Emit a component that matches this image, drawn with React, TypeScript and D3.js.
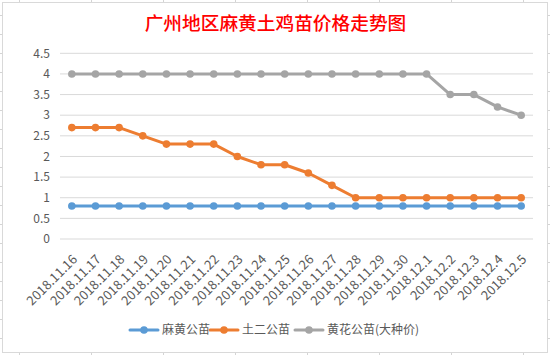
import React from "react";
import * as d3 from "d3";

const categories = [
  "2018.11.16", "2018.11.17", "2018.11.18", "2018.11.19", "2018.11.20",
  "2018.11.21", "2018.11.22", "2018.11.23", "2018.11.24", "2018.11.25",
  "2018.11.26", "2018.11.27", "2018.11.28", "2018.11.29", "2018.11.30",
  "2018.12.1", "2018.12.2", "2018.12.3", "2018.12.4", "2018.12.5",
];
const mahuang = [0.8, 0.8, 0.8, 0.8, 0.8, 0.8, 0.8, 0.8, 0.8, 0.8, 0.8, 0.8, 0.8, 0.8, 0.8, 0.8, 0.8, 0.8, 0.8, 0.8];
const tuer = [2.7, 2.7, 2.7, 2.5, 2.3, 2.3, 2.3, 2.0, 1.8, 1.8, 1.6, 1.3, 1.0, 1.0, 1.0, 1.0, 1.0, 1.0, 1.0, 1.0];
const huanghua = [4, 4, 4, 4, 4, 4, 4, 4, 4, 4, 4, 4, 4, 4, 4, 4, 3.5, 3.5, 3.2, 3.0];
const yTicks = [0, 0.5, 1, 1.5, 2, 2.5, 3, 3.5, 4, 4.5];
const seriesNames = ["麻黄公苗", "土二公苗", "黄花公苗(大种价)"];
const title = "广州地区麻黄土鸡苗价格走势图";

const W = 550;
const H = 355;
const colors = ["#5B9BD5", "#ED7D31", "#A5A5A5"];
const font = "'Microsoft YaHei', 'Noto Sans CJK SC', 'Noto Sans', sans-serif";

export default function App() {
  const x = d3.scaleBand<string>().domain(categories).range([60, 533]);
  const y = d3.scaleLinear().domain([0, 4.5]).range([239, 53.3]);
  const line = d3
    .line<number>()
    .x((_, i) => (x(categories[i]) as number) + x.bandwidth() / 2)
    .y((d) => y(d));
  const series = [mahuang, tuer, huanghua];

  const rowTicks = d3.range(15, H, 19);
  const colTicks = d3.range(19.5, W, 72);

  const legendItems = [
    { x: 130, textX: 162 },
    { x: 210, textX: 242 },
    { x: 295, textX: 327 },
  ];

  return (
    <svg
      width={W}
      height={H}
      style={{ position: "absolute", left: 0, top: 0, background: "#fff" }}
    >
      {rowTicks.map((r) => (
        <g key={"r" + r}>
          <line x1={0} x2={3} y1={r + 0.5} y2={r + 0.5} stroke="#d4d4d4" />
          <line x1={547} x2={W} y1={r + 0.5} y2={r + 0.5} stroke="#d4d4d4" />
        </g>
      ))}
      {colTicks.map((c) => (
        <g key={"c" + c}>
          <line x1={c} x2={c} y1={0} y2={3} stroke="#d4d4d4" />
          <line x1={c} x2={c} y1={352} y2={H} stroke="#d4d4d4" />
        </g>
      ))}
      <rect x={2.5} y={2.5} width={545} height={350} fill="#fff" stroke="#d9d9d9" />

      <text
        x={275.5}
        y={30}
        textAnchor="middle"
        fill="#FF0000"
        fontSize={18.7}
        fontWeight={500}
        fontFamily={font}
      >
        {title}
      </text>

      {yTicks.map((t) => (
        <g key={"y" + t}>
          <line x1={60} x2={533} y1={y(t)} y2={y(t)} stroke="#d9d9d9" strokeWidth={1} />
          <text
            x={50}
            y={y(t)}
            dy="0.35em"
            textAnchor="end"
            fill="#595959"
            fontSize={12}
            fontFamily={font}
          >
            {t}
          </text>
        </g>
      ))}

      {categories.map((c) => {
        const cx = (x(c) as number) + x.bandwidth() / 2;
        return (
          <text
            key={c}
            transform={`translate(${cx + 3},${257}) rotate(-45)`}
            textAnchor="end"
            dy="0.35em"
            fill="#595959"
            fontSize={13}
            fontFamily={font}
          >
            {c}
          </text>
        );
      })}

      {series.map((s, si) => (
        <g key={"s" + si}>
          <path
            d={line(s) as string}
            fill="none"
            stroke={colors[si]}
            strokeWidth={3}
            strokeLinejoin="round"
            strokeLinecap="round"
          />
          {s.map((v, i) => (
            <circle
              key={i}
              cx={(x(categories[i]) as number) + x.bandwidth() / 2}
              cy={y(v)}
              r={3.8}
              fill={colors[si]}
            />
          ))}
        </g>
      ))}

      {legendItems.map((it, i) => (
        <g key={"l" + i}>
          <line
            x1={it.x}
            x2={it.x + 28}
            y1={330}
            y2={330}
            stroke={colors[i]}
            strokeWidth={3}
            strokeLinecap="round"
          />
          <circle cx={it.x + 14} cy={330} r={3.8} fill={colors[i]} />
          <text
            x={it.textX}
            y={330}
            dy="0.35em"
            fill="#595959"
            fontSize={12}
            fontFamily={font}
          >
            {seriesNames[i]}
          </text>
        </g>
      ))}
    </svg>
  );
}
